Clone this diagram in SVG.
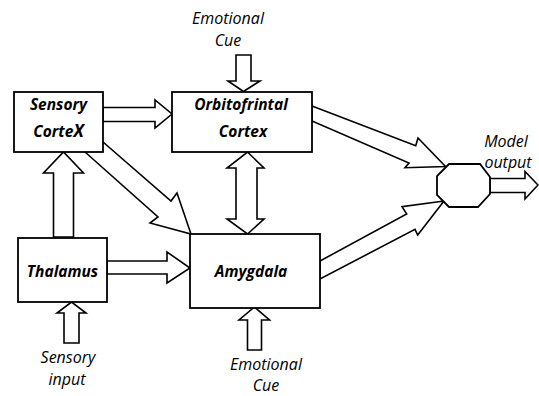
<svg xmlns="http://www.w3.org/2000/svg" width="539" height="396" viewBox="0 0 539 396">
<style>
.box{fill:#fff;stroke:#000;stroke-width:1.8}
.arr{fill:#fff;stroke:#000;stroke-width:1.6;stroke-linejoin:miter}
.lbl{font-family:"Open Sans","Liberation Sans",sans-serif;font-size:15.5px;font-style:italic;font-weight:bold;text-anchor:middle;fill:#000}
.cap{font-family:"Open Sans","Liberation Sans",sans-serif;font-size:16px;font-style:italic;text-anchor:middle;fill:#000}
</style>
<rect width="539" height="396" fill="#fff"/>
<g id="connectors">
<polygon class="arr" points="236,55 251,55 251,81 260,81 243.5,91.5 228,81 236,81"/>
<polygon class="arr" points="103,107.5 155,107.5 155,100 172,114 155,128 155,121.5 103,121.5"/>
<polygon class="arr" points="53.5,237 53.5,173 43.5,173 63.5,152 83.5,173 73.5,173 73.5,237"/>
<polygon class="arr" points="64,343 64,313 57,313 71.5,302 86,313 79,313 79,343"/>
<polygon class="arr" points="107,261 167,261 167,252 190,268 167,283 167,274 107,274"/>
<polygon class="arr" points="247.5,350 247.5,320 239,320 254.5,307 269.5,320 261.5,320 261.5,350"/>
<polygon class="arr" points="247.5,152 264,168 257,168 257,219 264,219 247.5,234 227,219 236,219 236,168 227,168"/>
<polygon class="arr" points="103,142 171,201 177,193 191,234 150,223 158,217 85,152"/>
<polygon class="arr" points="312,106 415.7,145.7 418,138 445.5,166.5 405,167.7 409,163 312,121"/>
<polygon class="arr" points="320,261 406.7,214 402,206.7 444,201 417.7,235 415,229.3 320,279"/>
<polygon class="arr" points="490,178.5 525,178.5 525,171.5 538,185 525,199 525,192.5 490,192.5"/>
</g>
<g id="sensory-cortex">
<rect class="box" x="14" y="92" width="89" height="60"/>
<text class="lbl" x="58.5" y="110">Sensory</text>
<text class="lbl" x="58.5" y="137">Corte<tspan font-size="17px">X</tspan></text>
</g>
<g id="orbitofrontal-cortex">
<rect class="box" x="172" y="92" width="140" height="60"/>
<text class="lbl" x="241" y="110">Orbitofrintal</text>
<text class="lbl" x="243" y="137">Cortex</text>
</g>
<g id="thalamus">
<rect class="box" x="18" y="238" width="89" height="64"/>
<text class="lbl" x="62.5" y="277">Thalamus</text>
</g>
<g id="amygdala">
<rect class="box" x="190" y="234" width="130" height="74"/>
<text class="lbl" x="251" y="277">Amygdala</text>
</g>
<g id="output-node">
<polygon class="box" points="449,164 480,164 490,177 490,194 478,207 449,207 437,195 437,176"/>
</g>
<g id="labels">
<text class="cap" x="228" y="24">Emotional</text>
<text class="cap" x="228" y="46">Cue</text>
<text class="cap" x="68" y="363">Sensory</text>
<text class="cap" x="67" y="385">input</text>
<text class="cap" x="266" y="370">Emotional</text>
<text class="cap" x="266" y="391">Cue</text>
<text class="cap" x="506" y="147">Model</text>
<text class="cap" x="508" y="168">output</text>
</g>
</svg>
